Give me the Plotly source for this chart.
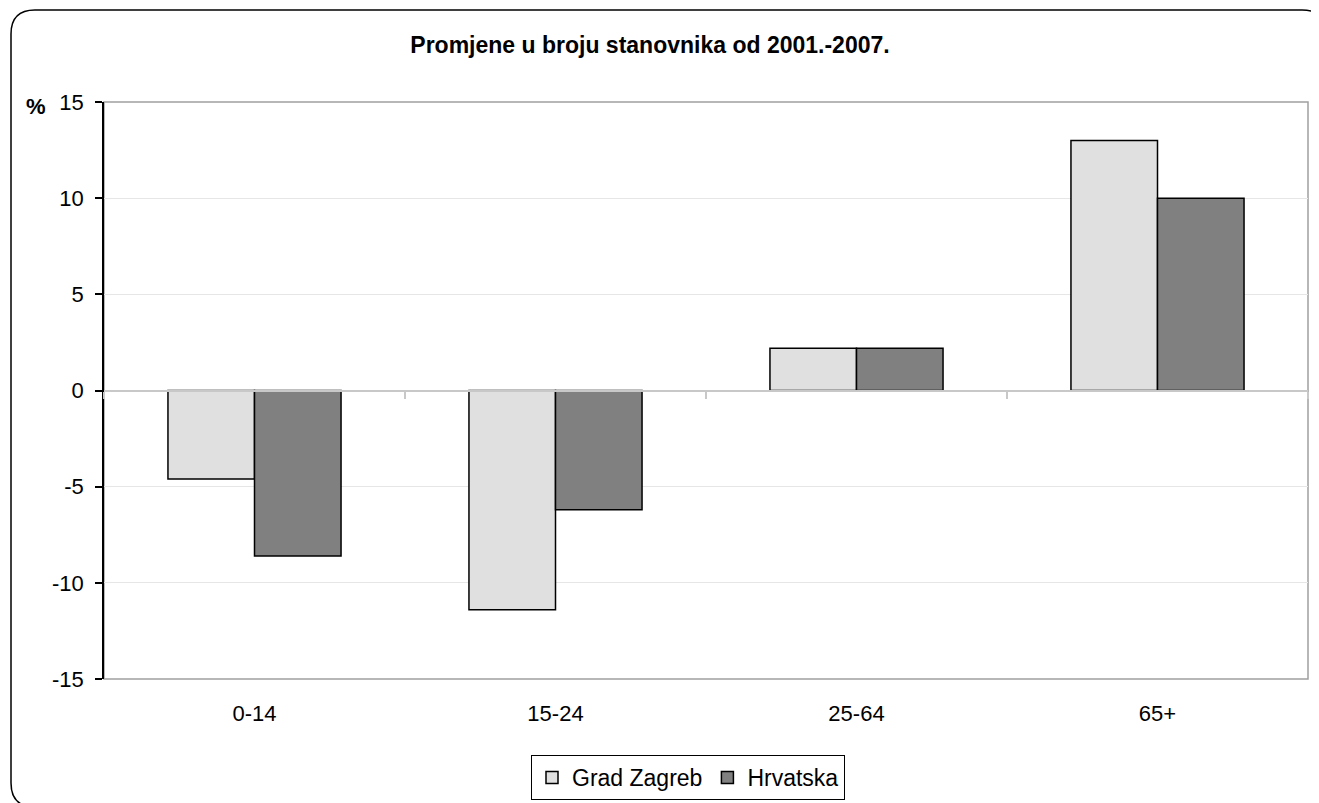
import plotly.graph_objects as go

categories = ["0-14", "15-24", "25-64", "65+"]
grad_zagreb = [-4.6, -11.4, 2.2, 13.0]
hrvatska = [-8.6, -6.2, 2.2, 10.0]
y_ticks = [-15, -10, -5, 0, 5, 10, 15]
y_tick_labels = ["-15", "-10", "-5", "0", "5", "10", "15"]

OFF = 8  # page body margin
W, H = 1319 - OFF, 803 - OFF
ML, MR, MT, MB = 104 - OFF, 11, 102 - OFF, 124
PW, PH = W - ML - MR, H - MT - MB
FONT = "Liberation Sans, Arial, sans-serif"


def px(x, y):
    # screen pixel -> paper coords
    return (x - OFF - ML) / PW, (H - MB - (y - OFF)) / PH


def rounded_rect(x0, y0, x1, y1, r):
    pts = [
        ("M", x0 + r, y0), ("L", x1 - r, y0), ("Q", x1, y0, x1, y0 + r),
        ("L", x1, y1 - r), ("Q", x1, y1, x1 - r, y1), ("L", x0 + r, y1),
        ("Q", x0, y1, x0, y1 - r), ("L", x0, y0 + r), ("Q", x0, y0, x0 + r, y0),
    ]
    out = []
    for p in pts:
        cmd, coords = p[0], p[1:]
        s = []
        for i in range(0, len(coords), 2):
            a, b = px(coords[i], coords[i + 1])
            s.append(f"{a:.5f},{b:.5f}")
        out.append(cmd + " ".join(s))
    return " ".join(out) + " Z"


fig = go.Figure()
fig.add_trace(go.Bar(x=categories, y=grad_zagreb, name="Grad Zagreb",
                     marker=dict(color="#e0e0e0", line=dict(color="black", width=1.5))))
fig.add_trace(go.Bar(x=categories, y=hrvatska, name="Hrvatska",
                     marker=dict(color="#808080", line=dict(color="black", width=1.5))))
# helper trace so the bottom label axis knows the categories
fig.add_trace(go.Scatter(x=categories, y=[0] * len(categories), xaxis="x2", mode="markers",
                         marker=dict(opacity=0), showlegend=False, hoverinfo="skip"))

fig.update_layout(
    width=W, height=H,
    margin=dict(l=ML, r=MR, t=MT, b=MB),
    paper_bgcolor="white", plot_bgcolor="white",
    font=dict(family=FONT, color="black", size=22),
    barmode="group", bargap=0.425, bargroupgap=0,
    title=dict(text="<b>Promjene u broju stanovnika od 2001.-2007.</b>",
               x=(650 - OFF) / W, xanchor="center",
               y=1 - (45 - OFF) / H, yanchor="middle",
               font=dict(size=23, family=FONT)),
    xaxis=dict(type="category", anchor="free", position=0.5, showline=True,
               linecolor="#c8c8c8", linewidth=2, ticks="outside", tickson="boundaries",
               ticklen=7, tickcolor="#c8c8c8", tickwidth=2, showticklabels=False,
               showgrid=False, range=[-0.5, 3.5]),
    xaxis2=dict(type="category", overlaying="x", matches="x", anchor="y", side="bottom",
                showline=False, ticks="", showgrid=False, ticklabelstandoff=19,
                tickfont=dict(size=22)),
    yaxis=dict(range=[-15, 15], tickvals=y_ticks, ticktext=y_tick_labels,
               showgrid=True, gridcolor="#e6e6e6",
               gridwidth=1, zeroline=False, showline=True, linecolor="black", linewidth=1.5,
               ticks="outside", ticklen=7, tickcolor="black", tickwidth=1.5,
               ticklabelstandoff=7, tickfont=dict(size=22)),
    legend=dict(orientation="h", xref="container", yref="container",
                x=(688 - OFF) / W, xanchor="center", y=(H - (755 - OFF)) / H,
                yanchor="top", bordercolor="black", borderwidth=1, font=dict(size=23),
                itemwidth=30, tracegroupgap=0),
    shapes=[
        dict(type="rect", xref="paper", yref="paper", x0=0, x1=1, y0=0, y1=1,
             line=dict(color="#a0a0a0", width=1.5), layer="below"),
        dict(type="path", xref="paper", yref="paper", path=rounded_rect(11, 10, 1326, 807, 24),
             line=dict(color="black", width=1.5)),
    ],
    annotations=[
        dict(text="<b>%</b>", xref="paper", yref="paper", x=px(36, 0)[0], y=px(0, 106)[1],
             showarrow=False, font=dict(size=22), xanchor="center", yanchor="middle"),
    ],
)

fig.write_html("out.html")
